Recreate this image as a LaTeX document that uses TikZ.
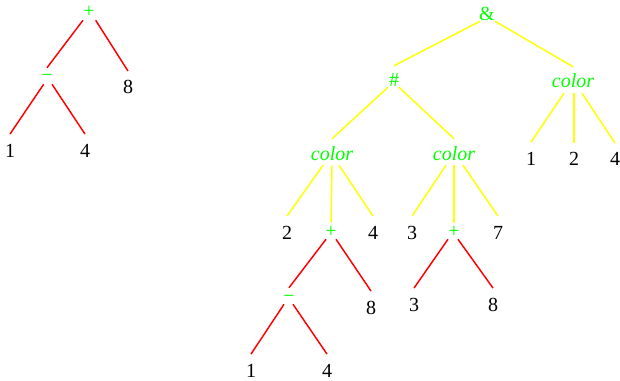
\documentclass[tikz,border=0pt]{standalone}
\usepackage{fontspec}
\setmainfont{Liberation Serif}
\definecolor{lgreen}{RGB}{0,255,0}
\definecolor{lyellow}{RGB}{255,255,0}
\definecolor{lred}{RGB}{255,0,0}
\begin{document}
\begin{tikzpicture}[x=0.75pt,y=-0.75pt,
 lbl/.style={inner sep=0pt, anchor=base, font=\fontsize{15}{18}\selectfont},
 leaf/.style={lbl, text height=17pt, text depth=0pt},
 op/.style={lbl, text=lgreen, text height=10.5pt, text depth=1.5pt},
 sym/.style={lbl, text=lgreen, text height=15.75pt, text depth=0pt},
 clr/.style={lbl, text=lgreen, text height=15.75pt, text depth=3.75pt, font=\fontsize{15}{18}\selectfont\itshape},
 redge/.style={draw=lred, line width=1.1pt},
 yedge/.style={draw=lyellow, line width=1.1pt}]
\useasboundingbox (0,0) rectangle (620,381);
% left tree
\node[op] (a) at (89,18) {+};
\node[op] (b) at (47,82) {−};
\node[leaf] (c) at (128,94) {8};
\node[leaf] (d) at (10,157) {1};
\node[leaf] (e) at (85,157) {4};
\draw[redge] ([xshift=-4.5pt]a.south) -- (b.north);
\draw[redge] ([xshift=5pt]a.south) -- (c.north);
\draw[redge] ([xshift=-2.5pt]b.south) -- (d.north);
\draw[redge] ([xshift=3.75pt]b.south) -- (e.north);
% right tree
\node[sym] (r) at (487,21) {\&};
\node[sym] (h) at (394,87) {\#};
\node[clr] (cr) at (573,88) {color};
\node[leaf] (cr1) at (531,165) {1};
\node[leaf] (cr2) at (574,166) {2};
\node[leaf] (cr3) at (615,166) {4};
\node[clr] (cl) at (332,160) {color};
\node[clr] (cm) at (454,160) {color};
\node[leaf] (cl1) at (287,239) {2};
\node[op] (pl) at (331,237) {+};
\node[leaf] (cl3) at (373,239) {4};
\node[leaf] (cm1) at (412,239) {3};
\node[op] (pm) at (454,237) {+};
\node[leaf] (cm3) at (498,239) {7};
\node[op] (mn) at (289,302) {−};
\node[leaf] (p8) at (371,314) {8};
\node[leaf] (b1) at (251,377) {1};
\node[leaf] (b4) at (327,377) {4};
\node[leaf] (m3) at (414,311) {3};
\node[leaf] (m8) at (493,311) {8};
\draw[yedge] ([xshift=-5.25pt]r.south) -- (h.north);
\draw[yedge] ([xshift=6pt]r.south) -- (cr.north);
\draw[yedge] ([xshift=-4.5pt]h.south) -- (cl.north);
\draw[yedge] ([xshift=3.75pt]h.south) -- (cm.north);
\draw[yedge] ([xshift=-6.75pt]cr.south) -- (cr1.north);
\draw[yedge] ([xshift=0.75pt]cr.south) -- (cr2.north);
\draw[yedge] ([xshift=6.75pt]cr.south) -- (cr3.north);
\draw[yedge] ([xshift=-6.75pt]cl.south) -- (cl1.north);
\draw[yedge] (cl.south) -- (pl.north);
\draw[yedge] ([xshift=5.25pt]cl.south) -- (cl3.north);
\draw[yedge] ([xshift=-6pt]cm.south) -- (cm1.north);
\draw[yedge] (cm.south) -- (pm.north);
\draw[yedge] ([xshift=6.75pt]cm.south) -- (cm3.north);
\draw[redge] ([xshift=-3.75pt]pl.south) -- (mn.north);
\draw[redge] ([xshift=3.75pt]pl.south) -- (p8.north);
\draw[redge] ([xshift=-3.75pt]mn.south) -- (b1.north);
\draw[redge] ([xshift=3pt]mn.south) -- (b4.north);
\draw[redge] ([xshift=-4.5pt]pm.south) -- (m3.north);
\draw[redge] ([xshift=3pt]pm.south) -- (m8.north);
\end{tikzpicture}
\end{document}
